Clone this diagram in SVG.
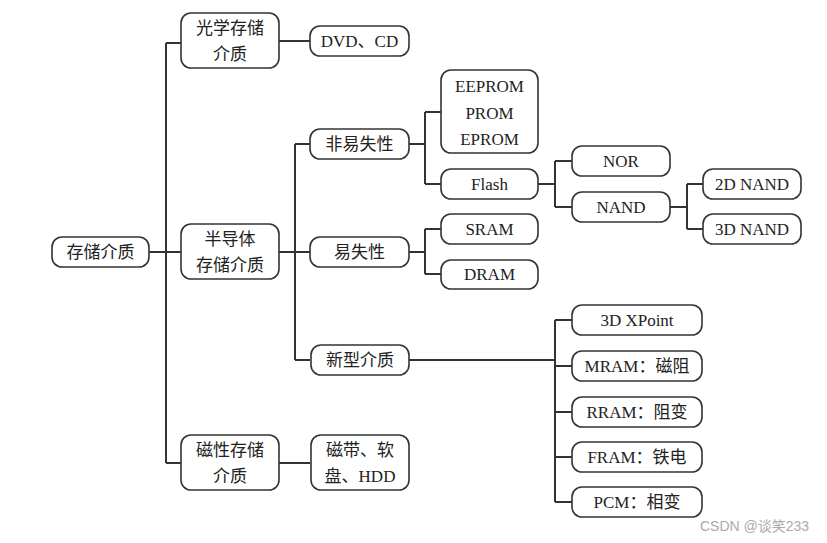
<svg xmlns="http://www.w3.org/2000/svg" width="827" height="543" viewBox="0 0 827 543">
<style>
.b{fill:#fff;stroke:#333;stroke-width:1.6}
.t{font-family:"Liberation Serif","Noto Sans CJK SC",serif;font-size:17px;fill:#222;text-anchor:middle}
.c{fill:none;stroke:#333;stroke-width:2}
.w{font-family:"Liberation Sans","Noto Sans CJK SC",sans-serif;font-size:14px;fill:#aaa}
</style>
<rect width="827" height="543" fill="#fff"/>
<g id="connectors">
<path class="c" d="M149 252H181M166 43V463M166 43H181M166 463H181"/>
<path class="c" d="M279 41H310"/>
<path class="c" d="M279 252H310M295 144V360M295 144H310M295 360H310"/>
<path class="c" d="M409 144H425M425 112V184M425 112H441M425 184H441"/>
<path class="c" d="M409 252H425M425 229V274M425 229H441M425 274H441"/>
<path class="c" d="M538 184H555M555 161V207M555 161H572M555 207H572"/>
<path class="c" d="M670 207H687M687 184V229M687 184H703M687 229H703"/>
<path class="c" d="M409 360H555M555 320V502M555 320H572M555 366H572M555 412H572M555 457H572M555 502H572"/>
<path class="c" d="M279 463H310"/>
</g>
<g id="root"><rect class="b" x="52" y="237" width="97" height="30" rx="10"/><text class="t" x="100.5" y="258">存储介质</text></g>
<g id="optical"><rect class="b" x="181" y="13" width="98" height="55" rx="10"/><text class="t" x="230" y="34">光学存储</text><text class="t" x="230" y="60">介质</text></g>
<g id="dvd"><rect class="b" x="310" y="26" width="99" height="30" rx="10"/><text class="t" x="359.5" y="47">DVD、CD</text></g>
<g id="semi"><rect class="b" x="181" y="224" width="98" height="55" rx="10"/><text class="t" x="230" y="245">半导体</text><text class="t" x="230" y="271">存储介质</text></g>
<g id="nonvol"><rect class="b" x="310" y="129" width="99" height="30" rx="10"/><text class="t" x="359.5" y="150">非易失性</text></g>
<g id="vol"><rect class="b" x="310" y="237" width="99" height="30" rx="10"/><text class="t" x="359.5" y="258">易失性</text></g>
<g id="newmedia"><rect class="b" x="311" y="345" width="98" height="30" rx="10"/><text class="t" x="360" y="366">新型介质</text></g>
<g id="magnetic"><rect class="b" x="181" y="435" width="98" height="55" rx="10"/><text class="t" x="230" y="456">磁性存储</text><text class="t" x="230" y="482">介质</text></g>
<g id="tape"><rect class="b" x="311" y="435" width="98" height="55" rx="10"/><text class="t" x="360" y="456">磁带、软</text><text class="t" x="360" y="482">盘、HDD</text></g>
<g id="eeprom"><rect class="b" x="441" y="70" width="97" height="83" rx="10"/><text class="t" x="489.5" y="92">EEPROM</text><text class="t" x="489.5" y="118.5">PROM</text><text class="t" x="489.5" y="145">EPROM</text></g>
<g id="flash"><rect class="b" x="441" y="169" width="97" height="30" rx="10"/><text class="t" x="489.5" y="190">Flash</text></g>
<g id="sram"><rect class="b" x="441" y="214" width="97" height="30" rx="10"/><text class="t" x="489.5" y="235">SRAM</text></g>
<g id="dram"><rect class="b" x="441" y="260" width="97" height="29" rx="10"/><text class="t" x="489.5" y="280">DRAM</text></g>
<g id="nor"><rect class="b" x="572" y="146" width="98" height="30" rx="10"/><text class="t" x="621" y="167">NOR</text></g>
<g id="nand"><rect class="b" x="572" y="192" width="98" height="30" rx="10"/><text class="t" x="621" y="213">NAND</text></g>
<g id="nand2d"><rect class="b" x="703" y="169" width="98" height="30" rx="10"/><text class="t" x="752" y="190">2D NAND</text></g>
<g id="nand3d"><rect class="b" x="703" y="214" width="98" height="30" rx="10"/><text class="t" x="752" y="235">3D NAND</text></g>
<g id="xpoint"><rect class="b" x="572" y="305" width="130" height="30" rx="10"/><text class="t" x="637" y="326">3D XPoint</text></g>
<g id="mram"><rect class="b" x="572" y="351" width="130" height="30" rx="10"/><text class="t" x="637" y="372">MRAM：磁阻</text></g>
<g id="rram"><rect class="b" x="572" y="397" width="130" height="30" rx="10"/><text class="t" x="637" y="418">RRAM：阻变</text></g>
<g id="fram"><rect class="b" x="572" y="442" width="130" height="30" rx="10"/><text class="t" x="637" y="463">FRAM：铁电</text></g>
<g id="pcm"><rect class="b" x="572" y="487" width="130" height="30" rx="10"/><text class="t" x="637" y="508">PCM：相变</text></g>
<text class="w" x="700" y="531">CSDN @谈笑233</text>
</svg>
